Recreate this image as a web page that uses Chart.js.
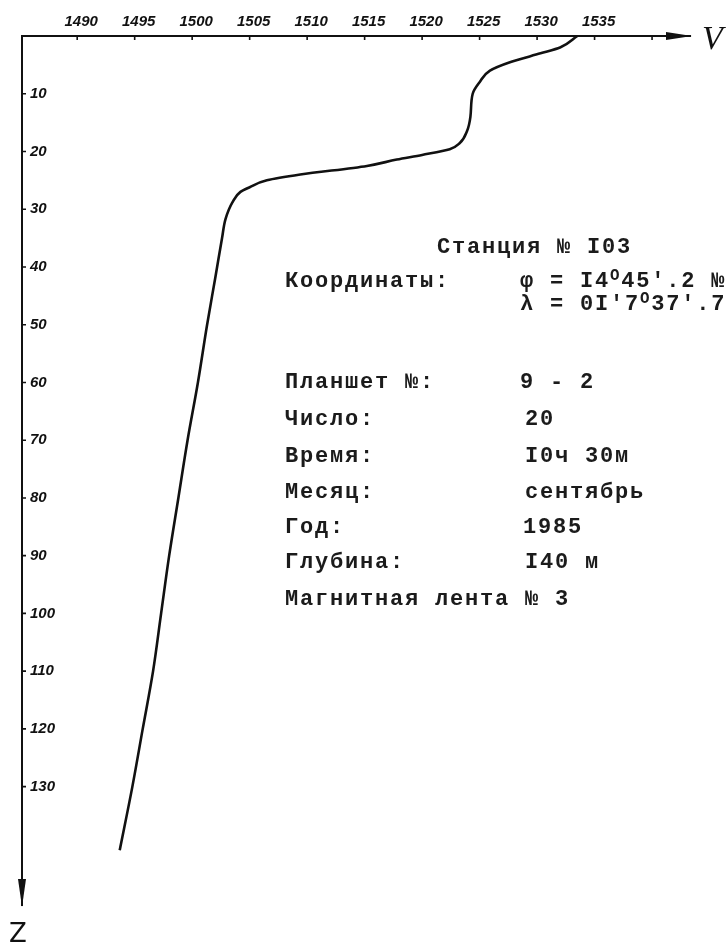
<!DOCTYPE html>
<html lang="ru">
<head>
<meta charset="utf-8">
<title>Станция № I03 — скорость звука</title>
<script src="https://cdn.jsdelivr.net/npm/chart.js@4.4.1/dist/chart.umd.min.js"></script>
<style>
  html, body { margin: 0; padding: 0; background: #fff; }
  .sheet { position: relative; width: 728px; height: 943px; overflow: hidden; }
  #profile { position: absolute; left: 0; top: 0; }
  .typed {
    position: absolute;
    font: bold 22px "Liberation Mono", "DejaVu Sans Mono", monospace;
    letter-spacing: 1.8px;
    line-height: 22px;
    color: #1b1b1b;
    white-space: pre;
  }
  .deg { font-size: 0.72em; position: relative; top: -0.45em; }
  .axisName { position: absolute; color: #111; line-height: 1; }
</style>
</head>
<body>
<div class="sheet">
  <canvas id="profile" width="728" height="943"></canvas>

  <div class="axisName" style="left:702px; top:19px; font: italic 34px 'Liberation Serif', serif;">V</div>
  <div class="axisName" style="left:9px; top:918px; font: 26px 'DejaVu Sans', sans-serif;">Z</div>

  <div class="typed" style="left:437px; top:237px;">Станция № I03</div>
  <div class="typed" style="left:285px; top:271px;">Координаты:</div>
  <div class="typed" style="left:520px; top:271px;">φ = I4<span class="deg">O</span>45'.2 №</div>
  <div class="typed" style="left:520px; top:294px;">λ = 0I'7<span class="deg">O</span>37'.7 О</div>
  <div class="typed" style="left:285px; top:372px;">Планшет №:</div>
  <div class="typed" style="left:520px; top:372px;">9 - 2</div>
  <div class="typed" style="left:285px; top:409px;">Число:</div>
  <div class="typed" style="left:525px; top:409px;">20</div>
  <div class="typed" style="left:285px; top:446px;">Время:</div>
  <div class="typed" style="left:525px; top:446px;">I0ч 30м</div>
  <div class="typed" style="left:285px; top:482px;">Месяц:</div>
  <div class="typed" style="left:525px; top:482px;">сентябрь</div>
  <div class="typed" style="left:285px; top:517px;">Год:</div>
  <div class="typed" style="left:523px; top:517px;">1985</div>
  <div class="typed" style="left:285px; top:552px;">Глубина:</div>
  <div class="typed" style="left:525px; top:552px;">I40 м</div>
  <div class="typed" style="left:285px; top:589px;">Магнитная лента № 3</div>
</div>

<script>
// depth below surface, m
const depths = [0, 2, 3, 4.5, 6, 8, 10, 14, 16.5, 18.5, 19.6, 20.6, 21.4, 22.5, 24, 25,
  26.2, 27, 28.8, 31.7, 35, 42, 50, 60, 70, 80, 90, 100, 110, 120, 130, 141];
// sound velocity at each depth, m/s
const velocities = [1533.5, 1532, 1530.3, 1527.7, 1525.9, 1525, 1524.4, 1524.2, 1523.9, 1523.3,
  1522.4, 1520, 1517.8, 1515.2, 1509.4, 1506.5, 1505, 1504.2, 1503.5, 1502.9, 1502.6, 1502.0,
  1501.3, 1500.5, 1499.6, 1498.8, 1498.0, 1497.3, 1496.6, 1495.7, 1494.8, 1493.7];

// labelled ticks on both axes
const velocityTicks = [1490, 1495, 1500, 1505, 1510, 1515, 1520, 1525, 1530, 1535];
const velocityMarks = [1490, 1495, 1500, 1505, 1510, 1515, 1520, 1525, 1530, 1535, 1540];
const depthTicks = [10, 20, 30, 40, 50, 60, 70, 80, 90, 100, 110, 120, 130];

const points = depths.map((d, i) => ({ x: velocities[i], y: d }));

// short tick strokes on the inner side of the axes and the arrowheads
const axisMarks = {
  id: 'axisMarks',
  afterDraw(chart) {
    const { ctx, chartArea: a, scales } = chart;
    ctx.save();
    ctx.strokeStyle = '#111';
    ctx.fillStyle = '#111';
    ctx.lineWidth = 1.6;
    ctx.beginPath();
    velocityMarks.forEach(v => {
      const px = scales.x.getPixelForValue(v);
      ctx.moveTo(px, a.top);
      ctx.lineTo(px, a.top + 4);
    });
    depthTicks.forEach(d => {
      const py = scales.y.getPixelForValue(d);
      ctx.moveTo(a.left, py);
      ctx.lineTo(a.left + 4, py);
    });
    ctx.stroke();

    // arrow along V
    ctx.beginPath();
    ctx.moveTo(a.right + 2, a.top);
    ctx.lineTo(a.right - 24, a.top - 4);
    ctx.lineTo(a.right - 24, a.top + 4);
    ctx.closePath();
    ctx.fill();
    // arrow along Z
    ctx.beginPath();
    ctx.moveTo(a.left, a.bottom + 2);
    ctx.lineTo(a.left - 4, a.bottom - 26);
    ctx.lineTo(a.left + 4, a.bottom - 26);
    ctx.closePath();
    ctx.fill();
    ctx.restore();
  }
};

const tickFont = { family: 'Liberation Sans', style: 'italic', weight: 'bold', size: 15 };

const config = {
  type: 'line',
  data: {
    datasets: [{
      data: points,
      borderColor: '#111',
      borderWidth: 2.6,
      cubicInterpolationMode: 'monotone',
      pointRadius: 0,
      pointHoverRadius: 0
    }]
  },
  options: {
    indexAxis: 'y',
    responsive: false,
    animation: false,
    events: [],
    layout: { padding: { left: 22, top: 6, right: 38, bottom: 38 } },
    plugins: { legend: { display: false }, tooltip: { enabled: false } },
    scales: {
      x: {
        type: 'linear',
        position: 'top',
        min: 1485.2,
        max: 1543.3,
        afterFit: s => { s.height = 30; },
        grid: { display: false, drawTicks: false },
        border: { display: true, color: '#111', width: 2 },
        ticks: {
          stepSize: 5,
          includeBounds: false,
          autoSkip: false,
          maxRotation: 0,
          padding: 5,
          labelOffset: 4,
          color: '#111',
          font: tickFont,
          callback: v => velocityTicks.includes(v) ? String(v) : ''
        }
      },
      y: {
        type: 'linear',
        position: 'left',
        reverse: true,
        min: 0,
        max: 150.5,
        afterFit: s => { s.width = 0; },
        grid: { display: false, drawTicks: false },
        border: { display: true, color: '#111', width: 2 },
        ticks: {
          stepSize: 10,
          includeBounds: false,
          autoSkip: false,
          mirror: true,
          padding: 8,
          color: '#111',
          font: tickFont,
          callback: v => depthTicks.includes(v) ? String(v) : ''
        }
      }
    }
  },
  plugins: [axisMarks]
};

const profileChart = new Chart(document.getElementById('profile'), config);
</script>
</body>
</html>
